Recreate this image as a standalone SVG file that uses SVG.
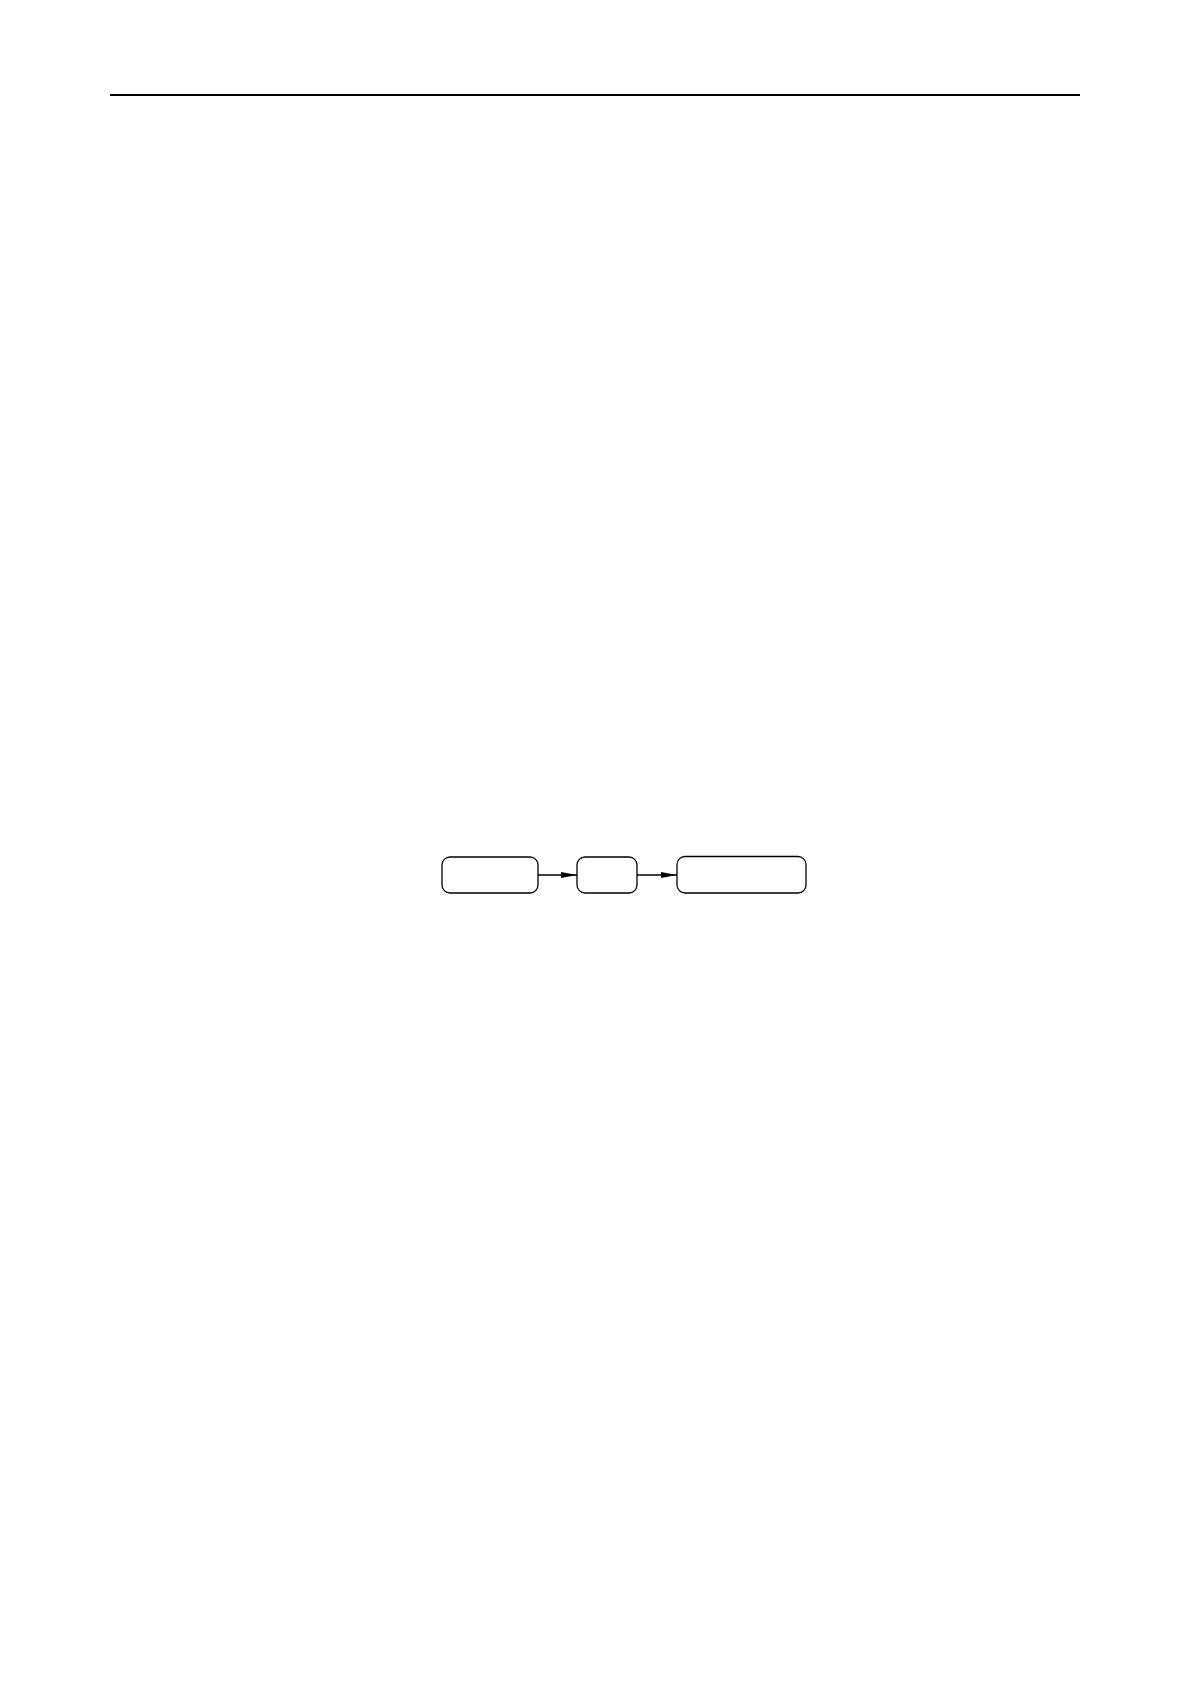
<svg xmlns="http://www.w3.org/2000/svg" width="1191" height="1684" viewBox="0 0 1191 1684">
<style>
.box{fill:#fff;stroke:#000;stroke-width:1.3}
.conn{stroke:#000;stroke-width:1.3;fill:none}
</style>
<defs>
<marker id="arr" markerUnits="userSpaceOnUse" markerWidth="16" markerHeight="8" refX="16" refY="4" orient="auto">
<path d="M0,1 L16,4 L0,7 Z" fill="#000"/>
</marker>
</defs>
<rect width="1191" height="1684" fill="#fff"/>
<line x1="110" y1="95" x2="1080" y2="95" stroke="#000" stroke-width="2"/>
<g id="node1"><rect class="box" x="442" y="857" width="96" height="36" rx="8"/></g>
<g id="node2"><rect class="box" x="577" y="857" width="60" height="36" rx="8"/></g>
<g id="node3"><rect class="box" x="677" y="856.5" width="129" height="36.5" rx="8"/></g>
<g id="connectors">
<line class="conn" x1="538" y1="875" x2="577" y2="875" marker-end="url(#arr)"/>
<line class="conn" x1="637" y1="875" x2="677" y2="875" marker-end="url(#arr)"/>
</g>
</svg>
